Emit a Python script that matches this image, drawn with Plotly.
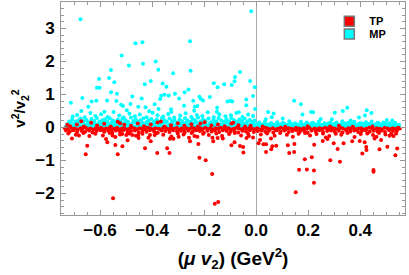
import plotly.graph_objects as go

# ---------------- TP (red) ----------------
tp_core1_x = [
 -0.735,-0.726,-0.714,-0.705,-0.697,-0.686,-0.675,-0.668,-0.655,-0.646,
 -0.637,-0.625,-0.616,-0.607,-0.596,-0.586,-0.577,-0.565,-0.556,-0.547,
 -0.535,-0.527,-0.516,-0.506,-0.497,-0.486,-0.477,-0.466,-0.456,-0.447,
 -0.436,-0.425,-0.417,-0.406,-0.396,-0.387,-0.375,-0.366,-0.357,-0.345,
 -0.336,-0.327,-0.316,-0.305,-0.297,-0.286,-0.276,-0.267,-0.255,-0.246,
 -0.237,-0.226,-0.215,-0.206,-0.196,-0.187,-0.176,-0.165,-0.157,-0.146,
 -0.136,-0.127,-0.115,-0.106,-0.097,-0.086,-0.075,-0.066,-0.055,-0.046,
 -0.037,-0.025,-0.016,-0.006,0.004,0.013,0.024,0.035,0.044,0.053,
 0.064,0.075,0.084,0.094,0.105,0.113,0.124,0.135,0.144,0.153,
 0.165,0.174,0.183,0.195,0.204,0.213,0.225,0.234,0.243,0.254,
 0.265,0.273,0.284,0.295,0.303,0.314,0.325,0.333,0.344,0.355,
 0.363,0.374,0.385,0.393,0.404,0.415,0.423,0.434,0.445,0.453,
 0.464,0.475,0.483,0.494,0.505,0.513,0.524,0.535,0.546,0.552]
tp_core1_y = [
 -0.02,-0.05,-0.01,-0.04,-0.03,-0.06,-0.02,-0.04,-0.01,-0.05,
 -0.03,-0.06,-0.02,-0.04,-0.01,-0.05,-0.03,-0.02,-0.06,-0.04,
 -0.01,-0.05,-0.03,-0.02,-0.06,-0.04,-0.01,-0.03,-0.05,-0.02,
 -0.04,-0.06,-0.01,-0.03,-0.05,-0.02,-0.04,-0.06,-0.01,-0.03,
 -0.05,-0.02,-0.04,-0.01,-0.06,-0.03,-0.05,-0.02,-0.04,-0.01,
 -0.03,-0.06,-0.02,-0.05,-0.01,-0.04,-0.03,-0.06,-0.02,-0.04,
 -0.01,-0.05,-0.03,-0.02,-0.06,-0.04,-0.01,-0.03,-0.05,-0.02,
 -0.04,-0.01,-0.03,-0.05,-0.02,-0.06,-0.04,-0.01,-0.03,-0.05,
 -0.02,-0.06,-0.04,-0.01,-0.03,-0.05,-0.02,-0.04,-0.06,-0.01,
 -0.03,-0.05,-0.02,-0.04,-0.01,-0.06,-0.03,-0.05,-0.02,-0.04,
 -0.01,-0.03,-0.06,-0.02,-0.04,-0.05,-0.01,-0.03,-0.06,-0.02,
 -0.04,-0.01,-0.05,-0.03,-0.02,-0.06,-0.04,-0.01,-0.03,-0.05,
 -0.02,-0.04,-0.06,-0.01,-0.03,-0.05,-0.02,-0.04,-0.01,-0.03]

tp_core2_x = [
 -0.731,-0.716,-0.702,-0.688,-0.671,-0.657,-0.642,-0.629,-0.613,-0.598,
 -0.584,-0.569,-0.553,-0.539,-0.524,-0.511,-0.494,-0.481,-0.466,-0.451,
 -0.437,-0.421,-0.408,-0.392,-0.378,-0.363,-0.349,-0.333,-0.319,-0.304,
 -0.289,-0.275,-0.261,-0.244,-0.231,-0.216,-0.201,-0.187,-0.171,-0.158,
 -0.142,-0.128,-0.113,-0.098,-0.084,-0.069,-0.053,-0.039,-0.024,-0.009,
 0.006,0.021,0.035,0.049,0.066,0.079,0.094,0.109,0.125,0.139,
 0.154,0.168,0.184,0.198,0.213,0.229,0.243,0.257,0.273,0.288,
 0.302,0.318,0.332,0.347,0.362,0.377,0.392,0.406,0.421,0.436,
 0.451,0.466,0.481,0.495,0.511,0.526,0.541]
tp_core2_y = [
 -0.09,-0.12,-0.08,-0.14,-0.10,-0.13,-0.09,-0.15,-0.11,-0.08,
 -0.13,-0.10,-0.16,-0.09,-0.12,-0.08,-0.14,-0.11,-0.09,-0.15,
 -0.10,-0.13,-0.08,-0.12,-0.16,-0.09,-0.11,-0.14,-0.08,-0.12,
 -0.10,-0.15,-0.09,-0.13,-0.08,-0.11,-0.16,-0.10,-0.12,-0.09,
 -0.14,-0.08,-0.11,-0.13,-0.09,-0.15,-0.10,-0.12,-0.08,-0.14,
 -0.11,-0.09,-0.13,-0.10,-0.15,-0.08,-0.12,-0.09,-0.14,-0.11,
 -0.08,-0.13,-0.10,-0.16,-0.09,-0.12,-0.08,-0.14,-0.11,-0.09,
 -0.13,-0.10,-0.15,-0.08,-0.12,-0.09,-0.14,-0.11,-0.08,-0.13,
 -0.10,-0.12,-0.09,-0.14,-0.08,-0.11,-0.10]

tp_spread_x = [
 -0.722,-0.693,-0.664,-0.641,-0.618,-0.589,-0.563,-0.541,-0.515,-0.488,
 -0.462,-0.437,-0.414,-0.383,-0.357,-0.326,-0.301,-0.279,-0.248,-0.226,
 -0.204,-0.182,-0.153,-0.131,-0.104,-0.082,-0.058,-0.031,-0.012,0.018,
 0.042,0.071,0.092,0.118,0.141,0.163,0.188,0.207,0.232,0.257,
 0.281,0.306,0.327,0.351,0.378,0.402,0.427,0.449,0.472,0.497,
 0.519,0.538,-0.708,-0.577,-0.452,-0.318,-0.168,0.057,0.268,0.462]
tp_spread_y = [
 -0.18,-0.22,-0.17,-0.26,-0.19,-0.24,-0.17,-0.29,-0.20,-0.18,
 -0.25,-0.19,-0.31,-0.17,-0.22,-0.27,-0.18,-0.21,-0.17,-0.28,
 -0.19,-0.23,-0.18,-0.26,-0.20,-0.17,-0.24,-0.19,-0.30,-0.21,
 -0.18,-0.25,-0.17,-0.22,-0.28,-0.19,-0.17,-0.24,-0.20,-0.18,
 -0.26,-0.19,-0.22,-0.17,-0.29,-0.20,-0.18,-0.23,-0.17,-0.21,
 -0.19,-0.18,-0.33,-0.35,-0.32,-0.34,-0.31,-0.33,-0.30,-0.28]

tp_upper_x = [
 -0.715,-0.689,-0.662,-0.634,-0.611,-0.584,-0.559,-0.532,-0.507,-0.481,
 -0.455,-0.431,-0.405,-0.379,-0.352,-0.327,-0.301,-0.276,-0.249,-0.224,
 -0.198,-0.172,-0.147,-0.121,-0.095,-0.068,-0.043,-0.021,0.025,0.112,
 0.198,0.284,0.371,0.447,-0.672,-0.523,-0.366,-0.214,-0.088,0.318]
tp_upper_y = [
 0.04,0.09,0.03,0.14,0.06,0.11,0.03,0.17,0.08,0.05,
 0.12,0.04,0.09,0.15,0.03,0.07,0.13,0.05,0.10,0.03,
 0.16,0.06,0.09,0.04,0.12,0.07,0.03,0.05,0.03,0.02,
 0.04,0.03,0.02,0.03,0.19,0.13,0.18,0.12,0.14,0.05]

tp_out_x = [
 -0.726,-0.681,-0.649,-0.655,-0.572,-0.552,-0.541,-0.532,-0.514,-0.523,
 -0.499,-0.476,-0.453,-0.494,-0.550,-0.427,-0.405,-0.380,-0.408,-0.390,
 -0.342,-0.333,-0.331,-0.218,-0.194,-0.169,-0.159,-0.146,-0.222,-0.254,
 -0.165,-0.148,-0.128,-0.095,-0.083,-0.062,-0.050,-0.049,-0.037,-0.028,
 -0.298,-0.258,-0.237,0.009,0.015,0.028,0.038,0.038,0.058,0.062,
 0.077,0.122,0.127,0.147,0.146,0.187,0.165,0.195,0.214,0.222,
 0.222,0.152,0.223,0.256,0.274,0.298,0.313,0.285,0.322,0.336,
 0.369,0.398,0.417,0.423,0.424,0.408,0.451,0.451,0.474,0.504,
 0.535,0.542,0.513,0.528,0.455,0.480]
tp_out_y = [
 0.08,-0.24,-0.55,-0.81,-0.45,-0.24,-0.53,-0.81,-0.57,-0.21,
 -0.23,-0.23,-0.23,-0.39,-2.14,-0.63,-0.42,-0.77,-0.23,-0.23,
 -0.63,-0.77,-0.34,-0.92,-0.99,-1.41,-2.31,-2.26,-0.50,-0.42,
 -0.42,-0.32,-0.33,-0.54,-0.45,-0.56,-0.59,-0.76,-0.32,-0.26,
 -0.28,-0.31,-0.26,-0.48,-0.38,-0.51,-0.51,-0.74,-0.66,-0.57,
 -0.55,-0.54,-0.77,-0.50,-0.74,-0.96,-1.28,-1.27,-0.90,-1.30,
 -1.67,-1.96,-0.52,-0.41,-0.35,-0.48,-0.65,-0.99,-1.04,-0.48,
 -0.42,-0.41,-0.45,-0.59,-0.68,-0.79,-1.29,-1.34,-0.66,-0.58,
 -0.84,-0.64,-0.25,-0.26,-0.33,-0.38]

# ---------------- MP (cyan) ----------------
mp_core1_x = [
 -0.731,-0.721,-0.711,-0.701,-0.692,-0.681,-0.671,-0.662,-0.651,-0.641,
 -0.632,-0.621,-0.611,-0.602,-0.591,-0.581,-0.572,-0.561,-0.551,-0.542,
 -0.531,-0.521,-0.512,-0.501,-0.491,-0.482,-0.471,-0.461,-0.452,-0.441,
 -0.431,-0.422,-0.411,-0.401,-0.392,-0.381,-0.371,-0.362,-0.351,-0.341,
 -0.332,-0.321,-0.311,-0.302,-0.291,-0.281,-0.272,-0.261,-0.251,-0.242,
 -0.231,-0.221,-0.212,-0.201,-0.191,-0.182,-0.171,-0.161,-0.152,-0.141,
 -0.131,-0.122,-0.111,-0.101,-0.092,-0.081,-0.071,-0.062,-0.051,-0.041,
 -0.032,-0.021,-0.011,-0.002,0.009,0.019,0.028,0.039,0.049,0.058,
 0.069,0.079,0.088,0.099,0.109,0.118,0.129,0.139,0.148,0.159,
 0.169,0.178,0.189,0.199,0.208,0.219,0.229,0.238,0.249,0.259,
 0.268,0.279,0.289,0.298,0.309,0.319,0.328,0.339,0.349,0.358,
 0.369,0.379,0.388,0.399,0.409,0.418,0.429,0.439,0.448,0.459,
 0.469,0.478,0.489,0.499,0.508,0.519,0.529,0.538,0.548]
mp_core1_y = [
 0.03,0.06,0.02,0.05,0.04,0.07,0.03,0.05,0.02,0.06,
 0.04,0.07,0.03,0.05,0.02,0.06,0.04,0.03,0.07,0.05,
 0.02,0.06,0.04,0.03,0.07,0.05,0.02,0.04,0.06,0.03,
 0.05,0.07,0.02,0.04,0.06,0.03,0.05,0.07,0.02,0.04,
 0.06,0.03,0.05,0.02,0.07,0.04,0.06,0.03,0.05,0.02,
 0.04,0.07,0.03,0.06,0.02,0.05,0.04,0.07,0.03,0.05,
 0.02,0.06,0.04,0.03,0.07,0.05,0.02,0.04,0.06,0.03,
 0.05,0.02,0.04,0.06,0.03,0.07,0.05,0.02,0.04,0.06,
 0.03,0.07,0.05,0.02,0.04,0.06,0.03,0.05,0.07,0.02,
 0.04,0.06,0.03,0.05,0.02,0.07,0.04,0.06,0.03,0.05,
 0.02,0.04,0.07,0.03,0.05,0.06,0.02,0.04,0.07,0.03,
 0.05,0.02,0.06,0.04,0.03,0.07,0.05,0.02,0.04,0.06,
 0.03,0.05,0.07,0.02,0.04,0.06,0.03,0.05,0.02]

mp_core2_x = [
 -0.726,-0.712,-0.699,-0.687,-0.673,-0.659,-0.647,-0.634,-0.621,-0.608,
 -0.594,-0.582,-0.568,-0.556,-0.542,-0.529,-0.517,-0.503,-0.491,-0.477,
 -0.464,-0.452,-0.438,-0.425,-0.412,-0.399,-0.386,-0.373,-0.361,-0.347,
 -0.334,-0.322,-0.308,-0.296,-0.282,-0.269,-0.257,-0.243,-0.231,-0.217,
 -0.204,-0.192,-0.178,-0.166,-0.152,-0.139,-0.126,-0.113,-0.101,-0.087,
 -0.074,-0.062,-0.048,-0.036,-0.022,-0.009,0.004,0.017,0.029,0.043,
 0.056,0.068,0.082,0.094,0.108,0.121,0.133,0.147,0.159,0.173,
 0.186,0.198,0.212,0.224,0.238,0.251,0.263,0.277,0.289,0.303,
 0.316,0.328,0.342,0.354,0.368,0.381,0.393,0.407,0.419,0.433,
 0.446,0.458,0.472,0.484,0.498,0.511,0.523,0.537,0.549]
mp_core2_y = [
 0.10,0.14,0.09,0.12,0.16,0.08,0.13,0.11,0.15,0.09,
 0.12,0.16,0.10,0.14,0.08,0.13,0.11,0.15,0.09,0.12,
 0.16,0.10,0.14,0.08,0.13,0.11,0.15,0.09,0.12,0.16,
 0.10,0.14,0.08,0.13,0.11,0.15,0.09,0.12,0.16,0.10,
 0.14,0.08,0.13,0.11,0.15,0.09,0.12,0.16,0.10,0.14,
 0.08,0.13,0.11,0.15,0.09,0.12,0.10,0.08,0.11,0.09,
 0.12,0.08,0.10,0.09,0.11,0.08,0.12,0.10,0.09,0.11,
 0.08,0.10,0.12,0.09,0.11,0.08,0.10,0.12,0.09,0.11,
 0.08,0.10,0.12,0.09,0.11,0.08,0.10,0.12,0.09,0.11,
 0.08,0.10,0.12,0.09,0.11,0.08,0.10,0.09,0.08]

mp_mid_x = [
 -0.718,-0.707,-0.695,-0.684,-0.675,-0.664,-0.652,-0.643,-0.633,-0.622,
 -0.612,-0.603,-0.592,-0.581,-0.572,-0.563,-0.551,-0.542,-0.532,-0.521,
 -0.513,-0.502,-0.493,-0.481,-0.472,-0.463,-0.452,-0.443,-0.433,-0.422,
 -0.414,-0.403,-0.393,-0.382,-0.373,-0.362,-0.353,-0.344,-0.333,-0.323,
 -0.314,-0.303,-0.294,-0.284,-0.273,-0.264,-0.253,-0.244,-0.234,-0.223,
 -0.214,-0.204,-0.194,-0.183,-0.174,-0.164,-0.153,-0.144,-0.134,-0.124,
 -0.114,-0.104,-0.095,-0.084,-0.074,-0.065,-0.054,-0.045,-0.034,-0.024,
 -0.015,-0.006]
mp_mid_y = [
 0.18,0.24,0.17,0.21,0.27,0.19,0.23,0.16,0.26,0.20,
 0.29,0.17,0.22,0.25,0.18,0.28,0.21,0.16,0.24,0.19,
 0.27,0.22,0.17,0.30,0.20,0.25,0.18,0.23,0.28,0.16,
 0.21,0.26,0.19,0.24,0.17,0.29,0.22,0.18,0.27,0.20,
 0.23,0.16,0.25,0.19,0.28,0.21,0.17,0.26,0.22,0.30,
 0.18,0.24,0.20,0.27,0.16,0.23,0.19,0.29,0.21,0.17,
 0.25,0.18,0.28,0.22,0.16,0.24,0.20,0.27,0.19,0.23,
 0.17,0.21]

mp_high_x = [
 -0.705,-0.688,-0.659,-0.637,-0.618,-0.596,-0.571,-0.548,-0.526,-0.509,
 -0.487,-0.466,-0.447,-0.421,-0.398,-0.379,-0.357,-0.338,-0.315,-0.292,
 -0.271,-0.249,-0.228,-0.207,-0.186,-0.163,-0.142,-0.118,-0.097,-0.076,
 -0.053,-0.031,-0.012,-0.672,-0.583,-0.497,-0.411,-0.326,-0.238,-0.151,-0.067]
mp_high_y = [
 0.33,0.38,0.31,0.44,0.35,0.40,0.32,0.47,0.36,0.30,
 0.42,0.34,0.39,0.31,0.45,0.37,0.33,0.41,0.30,0.36,
 0.43,0.32,0.38,0.35,0.46,0.31,0.40,0.34,0.37,0.44,
 0.32,0.39,0.35,0.50,0.48,0.52,0.49,0.47,0.51,0.48,0.46]

mp_right_x = [0.012,0.034,0.058,0.081,0.103,0.127,0.149,0.172,0.194,0.218,0.241,0.263,
              0.286,0.309,0.331,0.354,0.377,0.399,0.422,0.444,0.467,0.489,0.512,0.534]
mp_right_y = [0.15,0.18,0.13,0.16,0.14,0.19,0.13,0.17,0.15,0.14,0.18,0.13,
              0.16,0.15,0.19,0.14,0.17,0.13,0.16,0.18,0.14,0.15,0.13,0.14]

mp_out_x = [
 -0.675,-0.464,-0.437,-0.517,-0.386,-0.435,-0.489,-0.558,-0.376,-0.604,
 -0.565,-0.545,-0.405,-0.428,-0.612,-0.602,-0.558,-0.535,-0.476,-0.668,
 -0.440,-0.712,-0.632,-0.614,-0.573,-0.537,-0.645,-0.519,-0.512,-0.483,
 -0.453,-0.425,-0.390,
 -0.019,-0.254,-0.319,-0.252,-0.062,-0.081,-0.083,-0.023,-0.359,-0.345,
 -0.163,-0.148,-0.123,-0.094,-0.005,-0.260,-0.275,-0.312,-0.296,-0.365,
 -0.352,-0.336,-0.369,-0.218,-0.213,-0.204,-0.178,-0.242,-0.110,-0.098,
 -0.092,-0.038,-0.012,-0.375,-0.327,-0.277,-0.236,-0.226,-0.150,-0.038,
 -0.004,0.146,0.172,0.178,0.211,0.219,0.350,0.333,0.302,0.425,
 0.443,0.418,0.046,0.067,0.060,0.037,0.102,0.248,0.291,0.363,
 0.395,0.502,0.523]
mp_out_y = [
 3.28,2.55,2.58,2.18,2.00,1.93,1.88,1.74,1.75,1.47,
 1.50,1.37,1.41,1.31,1.20,1.20,1.07,1.02,0.94,0.89,
 0.88,0.75,0.79,0.81,0.82,0.80,0.63,0.69,0.65,0.71,
 0.63,0.61,0.70,
 3.52,2.61,1.64,1.72,1.68,1.53,1.40,1.41,1.33,1.23,
 1.34,1.22,1.31,1.29,1.22,1.15,1.07,1.02,0.88,0.96,
 0.99,0.97,0.86,0.93,0.87,0.82,0.92,0.81,0.79,0.80,
 0.79,0.85,0.95,0.56,0.55,0.66,0.63,0.65,0.60,0.67,
 0.56,0.81,0.70,0.39,0.47,0.46,0.60,0.50,0.45,0.52,
 0.44,0.36,0.47,0.42,0.31,0.25,0.27,0.26,0.25,0.21,
 0.30,0.23,0.21]

x_tickvals = [-0.6, -0.4, -0.2, 0.0, 0.2, 0.4]
x_ticktext = ["\u22120.6", "\u22120.4", "\u22120.2", "0.0", "0.2", "0.4"]
y_tickvals = [-2, -1, 0, 1, 2, 3]
y_ticktext = ["\u22122", "\u22121", "0", "1", "2", "3"]

tp_x = tp_core1_x + tp_core2_x + tp_spread_x + tp_upper_x + tp_out_x
tp_y = tp_core1_y + tp_core2_y + tp_spread_y + tp_upper_y + tp_out_y
mp_x = mp_core1_x + mp_core2_x + mp_mid_x + mp_high_x + mp_right_x + mp_out_x
mp_y = mp_core1_y + mp_core2_y + mp_mid_y + mp_high_y + mp_right_y + mp_out_y

RED = "#FF0000"
CYAN = "#00FFFF"
FRAME = "#999999"
FONT = "Liberation Sans, Arial"

fig = go.Figure()
fig.add_trace(go.Scatter(x=mp_x, y=mp_y, mode="markers", showlegend=False,
                         marker=dict(color=CYAN, size=4, line=dict(width=0))))
fig.add_trace(go.Scatter(x=tp_x, y=tp_y, mode="markers", showlegend=False,
                         marker=dict(color=RED, size=4, line=dict(width=0))))
# legend entries
fig.add_trace(go.Scatter(x=[None], y=[None], mode="markers", name="<b>TP</b>", legend="legend",
                         marker=dict(symbol="square", color=RED, size=10, line=dict(color="#777777", width=1.5))))
fig.add_trace(go.Scatter(x=[None], y=[None], mode="markers", name="<b>MP</b>", legend="legend2",
                         marker=dict(symbol="square", color=CYAN, size=10, line=dict(color="#777777", width=1.5))))

axis_common = dict(showline=True, linecolor=FRAME, linewidth=1, mirror="ticks",
                   ticks="inside", tickcolor=FRAME, showgrid=False, automargin=False,
                   tickfont=dict(family=FONT, size=17, color="black"))

fig.update_xaxes(**axis_common, range=[-0.75, 0.572], tickvals=x_tickvals,
                 ticktext=["<b>%s</b>" % t for t in x_ticktext],
                 ticklen=5, minor=dict(dtick=0.05, tick0=0, ticklen=3, ticks="inside", tickcolor=FRAME),
                 zeroline=True, zerolinecolor="#AAAAAA", zerolinewidth=1, ticklabelstandoff=0,
                 title=dict(text="<b>(<i>\u03bc v</i><sub>2</sub>) (GeV<sup>2</sup>)</b>",
                            font=dict(family=FONT, size=19, color="black"), standoff=12))
fig.update_yaxes(**axis_common, range=[-2.65, 3.8], tickvals=y_tickvals,
                 ticktext=["<b>%s</b>" % t for t in y_ticktext],
                 ticklen=5, minor=dict(dtick=0.2, tick0=0, ticklen=3, ticks="inside", tickcolor=FRAME),
                 zeroline=True, zerolinecolor="#AAAAAA", zerolinewidth=1, ticklabelstandoff=2,
                 title=dict(text="<b>v<sup>2</sup>/v<sub>2</sub><sup>2</sup></b>",
                            font=dict(family=FONT, size=15, color="black"), standoff=5))

leg_common = dict(xanchor="left", yanchor="middle", bgcolor="rgba(0,0,0,0)", borderwidth=0,
                  font=dict(family=FONT, size=11, color="black"),
                  itemwidth=30, tracegroupgap=0)
fig.update_layout(
    width=409, height=275,
    margin=dict(l=61, r=4, t=2, b=60),
    paper_bgcolor="white", plot_bgcolor="white",
    legend=dict(x=0.78, y=0.91, **leg_common),
    legend2=dict(x=0.78, y=0.85, **leg_common),
)

fig.write_html("out.html", config={"displayModeBar": False},
               post_script="document.body.style.margin='0';")
